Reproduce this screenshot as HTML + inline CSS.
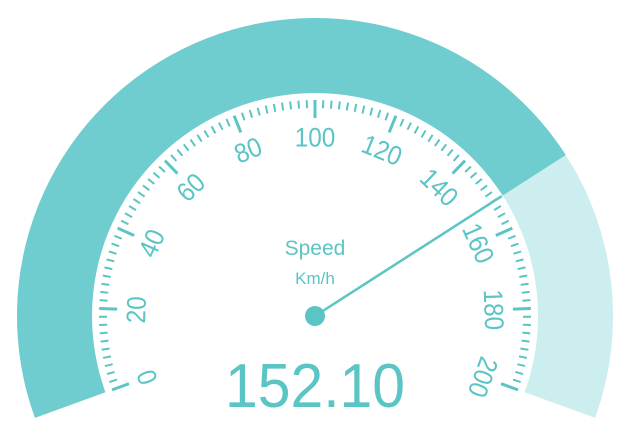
<!DOCTYPE html>
<html><head><meta charset="utf-8"><style>
html,body{margin:0;padding:0;background:#fff}
svg{display:block}
text{font-family:"Liberation Sans",sans-serif;fill:#5bc4c4}
</style></head><body>
<svg id="g" width="628" height="444" viewBox="0 0 628 444" xmlns="http://www.w3.org/2000/svg"></svg>
<script>
const gaugeMin = [0];
const gaugeMax = [200];
const gaugeValue = [152.1];
const majorTickLabels = ['0','20','40','60','80','100','120','140','160','180','200'];
const titleText = ['Speed'];
const unitText = ['Km/h'];

const NS='http://www.w3.org/2000/svg';
const svg=document.getElementById('g');
const cx=315, cy=316, R=298, r=223;
const startA=200, endA=-20;
function ang(v){return startA-(v-gaugeMin[0])/(gaugeMax[0]-gaugeMin[0])*(startA-endA);}
function pt(a,rad){const t=a*Math.PI/180;return [cx+rad*Math.cos(t),cy-rad*Math.sin(t)];}
function mk(tag,attrs){const e=document.createElementNS(NS,tag);for(const k in attrs)e.setAttribute(k,attrs[k]);svg.appendChild(e);return e;}
function band(a1,a2,fill,name){
  const p1=pt(a1,R),p2=pt(a2,R),p3=pt(a2,r),p4=pt(a1,r);
  const large=(a1-a2)>180?1:0;
  const d=`M${p1[0]},${p1[1]} A${R},${R} 0 ${large} 1 ${p2[0]},${p2[1]} L${p3[0]},${p3[1]} A${r},${r} 0 ${large} 0 ${p4[0]},${p4[1]} Z`;
  const e=mk('path',{d:d,fill:fill});
  
  
}
const va=ang(gaugeValue[0]);
band(startA,endA,'#cdeeef','gauge-track');
band(startA,va,'#6fcdcf','gauge-progress');

const maxV=gaugeMax[0],minV=gaugeMin[0];
const nSplit=majorTickLabels.length-1;
for(let i=0;i<=nSplit*10;i++){
  const v=minV+(maxV-minV)*i/(nSplit*10);
  const a=ang(v);
  const major=i%10===0;
  const p1=pt(a,216),p2=pt(a,major?198:208);
  const e=mk('line',{x1:p1[0],y1:p1[1],x2:p2[0],y2:p2[1],stroke:'#5bc4c4','stroke-width':major?3:2});
  
  
}
majorTickLabels.forEach((lab,i)=>{
  const v=minV+(maxV-minV)*i/nSplit;
  const a=ang(v);
  const p=pt(a,178);
  const t=mk('text',{x:0,y:0,'text-anchor':'middle','dominant-baseline':'central','font-size':27,transform:`translate(${p[0]} ${p[1]}) rotate(${-(a-90)}) scale(0.9 1)`});
  t.textContent=lab;
  
  
});
const np=pt(va,222);
const nd=mk('line',{x1:cx,y1:cy,x2:np[0],y2:np[1],stroke:'#5bc4c4','stroke-width':2.5});


const hub=mk('circle',{cx:cx,cy:cy,r:10,fill:'#5bc4c4'});


const t1=mk('text',{x:cx,y:255,'text-anchor':'middle','font-size':21});
t1.textContent=titleText[0];


const t2=mk('text',{x:cx,y:284,'text-anchor':'middle','font-size':17});
t2.textContent=unitText[0];


const t3=mk('text',{x:0,y:0,'text-anchor':'middle','font-size':62,transform:`translate(${cx} 407) scale(0.95 1)`});
t3.textContent=gaugeValue[0].toFixed(2);


</script>
</body></html>
